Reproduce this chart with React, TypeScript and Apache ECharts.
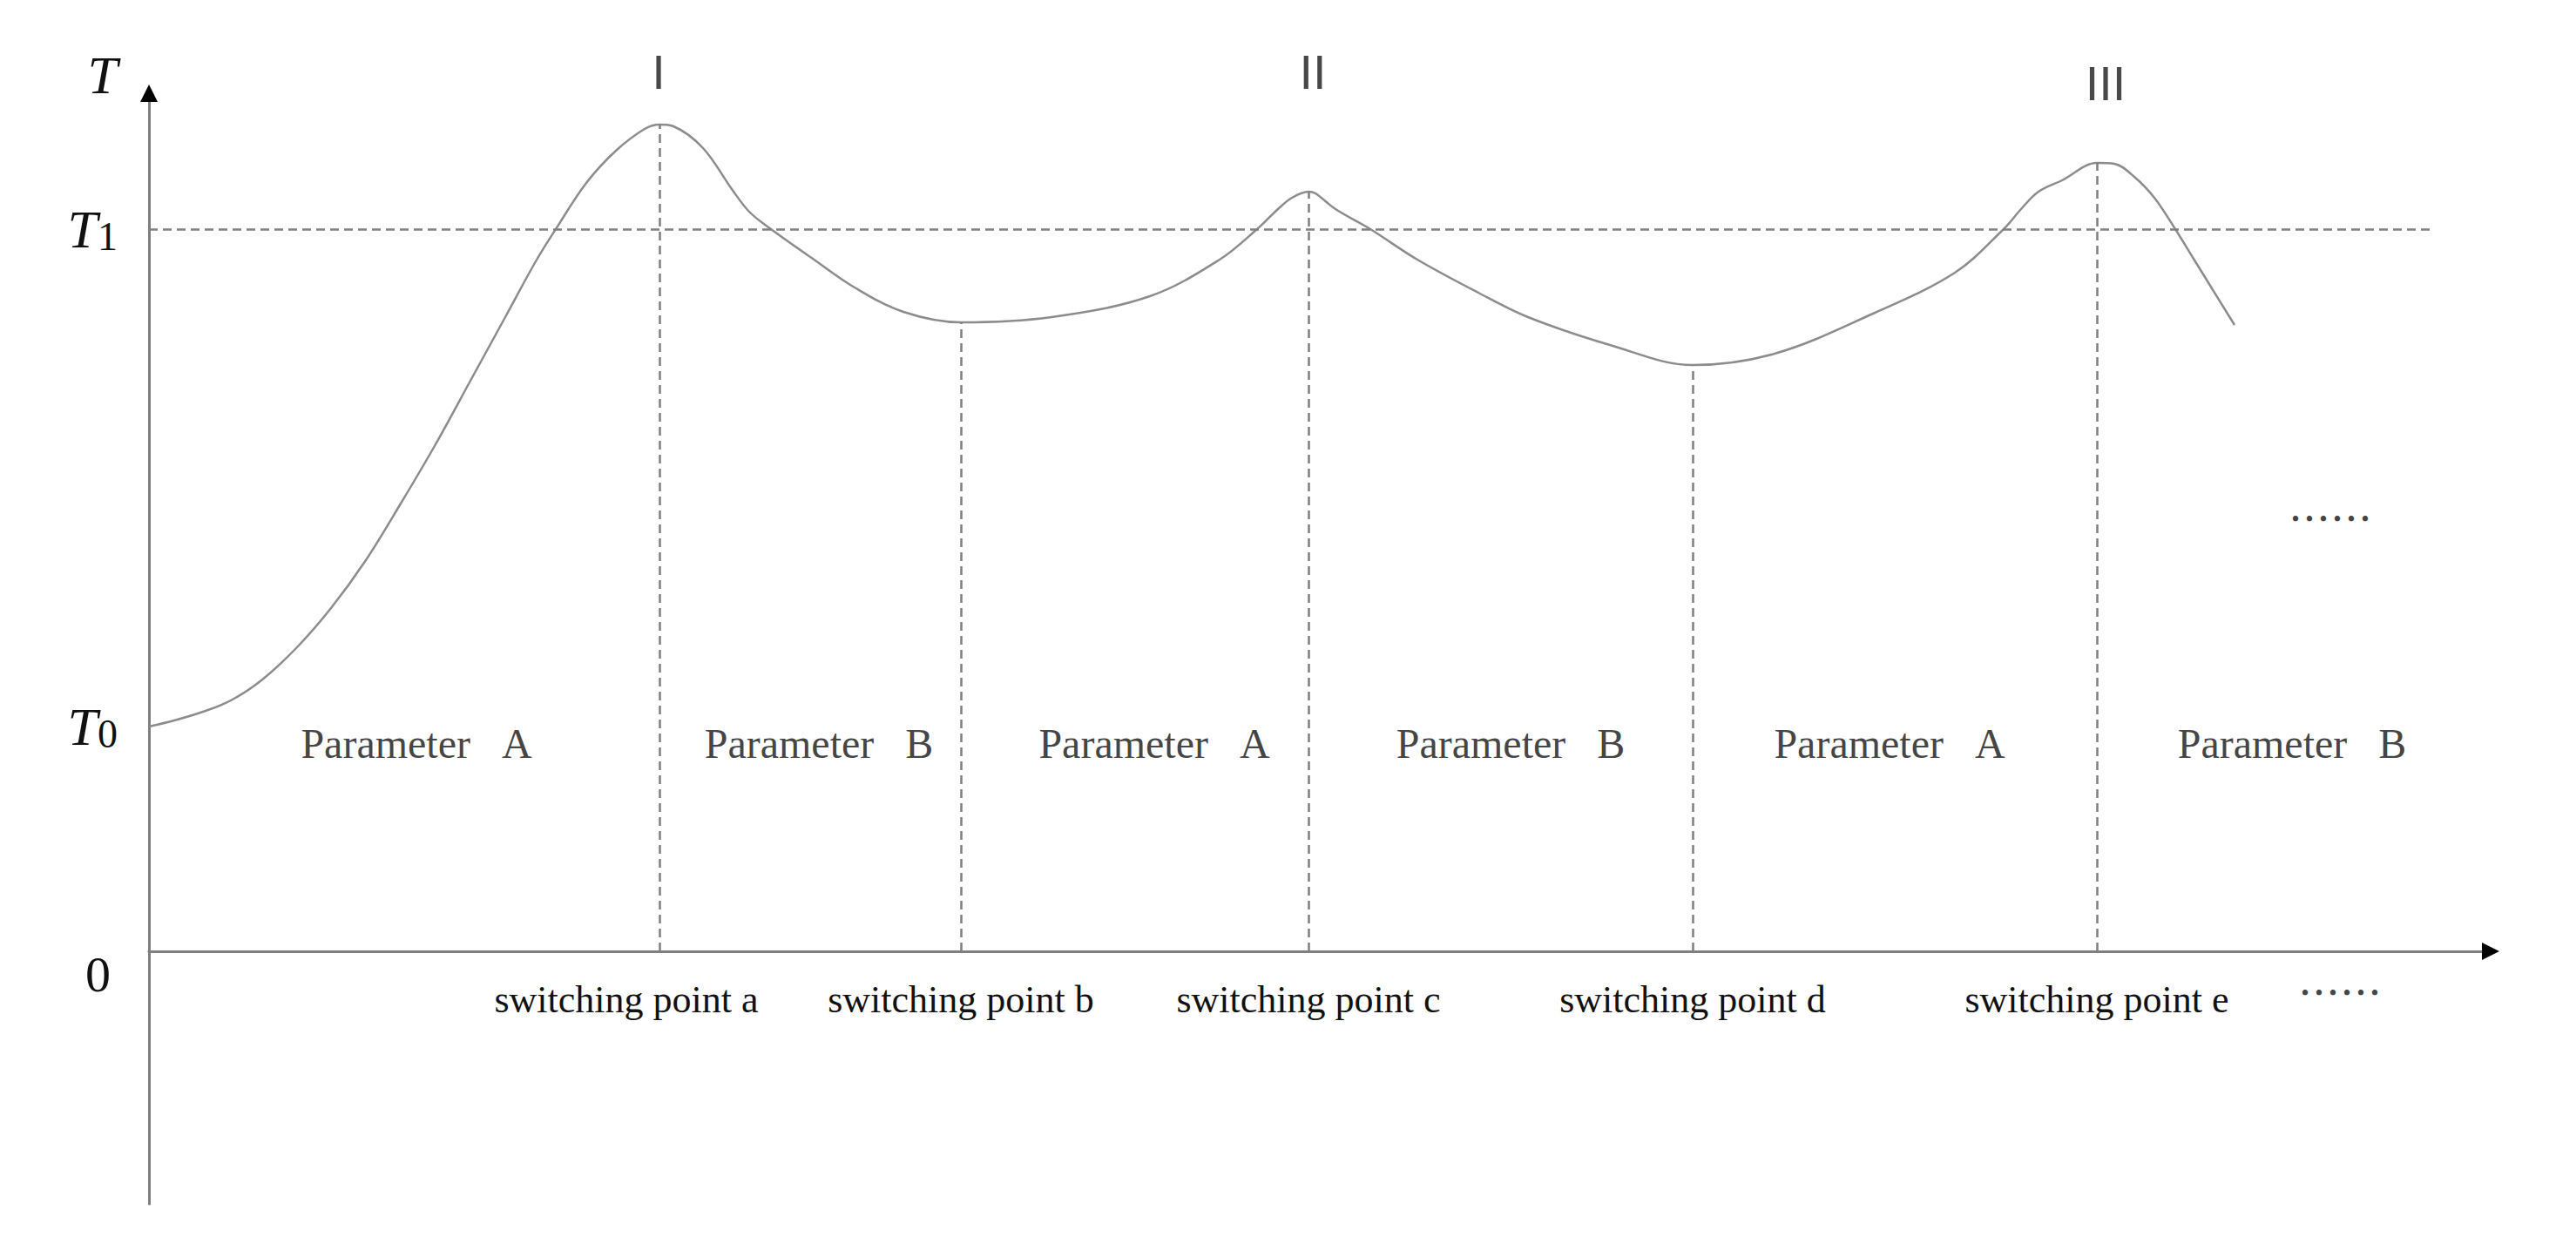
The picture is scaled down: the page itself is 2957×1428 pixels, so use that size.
import React, { useEffect, useRef } from "react";
import * as echarts from "echarts";

// ---- data (abstract units) ----
const curveX = [0, 2.9, 6.2, 9.4, 12.9, 16.9, 20.9, 24.9, 28.9, 32.9, 36.9, 40.9, 44.4, 46.7, 50.2, 53.6, 56.9, 58.6, 60.2, 63.6, 66.9, 68.9, 71.4, 76.2, 81, 86.6, 93.2, 103.6, 114.9, 122.9, 127.2, 129.6, 131.2, 133.1, 133.9, 136.2, 140.2, 145.6, 152.6, 158.3, 167.7, 177.2, 186.6, 197.9, 207.3, 212.9, 214.9, 216.9, 219.6, 223.6, 225.6, 227.9, 230.2, 232.6, 234.7, 239.4];
const curveY = [25.8, 26.5, 27.5, 28.8, 31.1, 34.8, 39.4, 44.9, 51.4, 58.2, 65.5, 72.8, 79.2, 82.9, 88.2, 91.9, 94.4, 94.9, 94.7, 92.2, 87.5, 84.9, 82.9, 79.5, 76.2, 73.4, 72.2, 72.8, 75.2, 79.4, 82.9, 85.2, 86.5, 87.2, 87.0, 85.2, 82.9, 79.4, 75.6, 72.8, 69.6, 67.3, 68.6, 73.2, 77.9, 82.9, 85.2, 87.2, 88.5, 90.5, 90.4, 88.9, 86.5, 82.9, 79.5, 71.9];

const switchX = [58.6, 93.2, 133.1, 177.2, 223.6];
const switchY = [94.9, 72.2, 87.2, 67.3, 90.5];
const switchLabels = ["switching point a", "switching point b", "switching point c", "switching point d", "switching point e"];

const T0 = 25.8;
const T1 = 82.9;
const yTickValues = [0, T0, T1];
const yTickLabels = ["0", "T0", "T1"];
const t1LineEnd = 262;

const paramLabels = ["Parameter\u00a0\u00a0\u00a0A", "Parameter\u00a0\u00a0\u00a0B", "Parameter\u00a0\u00a0\u00a0A", "Parameter\u00a0\u00a0\u00a0B", "Parameter\u00a0\u00a0\u00a0A", "Parameter\u00a0\u00a0\u00a0B"];
const paramX = [30.7, 76.9, 115.4, 156.3, 199.8, 246.0];
const paramY = 23.9;

const peakLabels = ["I", "II", "III"];
const peakX = [58.5, 133.6, 224.6];
const peakY = [101, 101, 99.7];

const ellipsisX = [250.4, 251.5];
const ellipsisY = [50, -4.4];

const X_MIN = 0;
const X_MAX = 268.8;
const Y_MIN = -29;
const Y_MAX = 98.5;

const SERIF = "'Times New Roman', 'Liberation Serif', serif";
const SANS = "'Liberation Sans', Arial, sans-serif";
const AXIS_COLOR = "#7f7f7f";
const TEXT_COLOR = "#111";

export default function App() {
  const ref = useRef<HTMLDivElement>(null);

  useEffect(() => {
    if (!ref.current) return;
    const chart = echarts.init(ref.current, undefined, { renderer: "svg" });

    const curveData = curveX.map((x, i) => [x, curveY[i]]);

    const dashStyle = { color: AXIS_COLOR, width: 2.5, type: [10, 6] as any };

    const markLineData: any[] = switchX.map((x, i) => [
      { coord: [x, 0] },
      { coord: [x, switchY[i]] },
    ]);
    markLineData.push([{ coord: [0, T1] }, { coord: [t1LineEnd, T1] }]);

    const annotations: any[] = [];
    paramLabels.forEach((t, i) => {
      annotations.push({
        value: [paramX[i], paramY],
        label: { formatter: t, fontSize: 48, fontFamily: SERIF, color: TEXT_COLOR },
      });
    });
    peakLabels.forEach((t, i) => {
      annotations.push({
        value: [peakX[i], peakY[i]],
        label: { formatter: t, fontSize: 56, fontFamily: SANS, color: "#1a1a1a" },
      });
    });
    ellipsisX.forEach((x, i) => {
      annotations.push({
        value: [x, ellipsisY[i]],
        label: { formatter: "\u2026\u2026", fontSize: 48, fontFamily: "'Noto Sans CJK SC', sans-serif", color: TEXT_COLOR },
      });
    });

    // pixel offset that puts the x axis on y = 0
    const gridTop = 107;
    const gridBottom = 46;
    const gridHeight = 1428 - gridTop - gridBottom;
    const zeroOffset = -(gridHeight * (0 - Y_MIN)) / (Y_MAX - Y_MIN);

    const arrowSize = [20, 20];

    // invisible-line axes that only carry the black arrow heads
    const arrowAxisCommon = {
      type: "value",
      splitLine: { show: false },
      axisTick: { show: false },
      axisLabel: { show: false },
    };

    chart.setOption({
      animation: false,
      backgroundColor: "#ffffff",
      grid: { left: 171, right: 98, top: gridTop, bottom: gridBottom, containLabel: false, outerBoundsMode: "none" },
      xAxis: [
        {
          type: "value",
          min: X_MIN,
          max: X_MAX,
          position: "bottom",
          offset: zeroOffset,
          splitLine: { show: false },
          axisTick: { show: false },
          axisLine: {
            show: true,
            onZero: false,
            symbol: ["none", "none"],
            lineStyle: { color: AXIS_COLOR, width: 3 },
          },
          axisLabel: {
            show: true,
            customValues: switchX,
            margin: 33,
            fontSize: 44,
            fontFamily: SERIF,
            color: TEXT_COLOR,
            formatter: (v: number) => {
              const idx = switchX.findIndex((s) => Math.abs(s - v) < 1e-6);
              if (idx < 0) return "";
              return idx === 0 ? `{sa|${switchLabels[idx]}}` : switchLabels[idx];
            },
            rich: {
              sa: { fontSize: 44, fontFamily: SERIF, color: TEXT_COLOR, padding: [0, 76, 0, 0] },
            },
          },
        },
        {
          ...arrowAxisCommon,
          min: X_MIN,
          max: X_MAX,
          position: "bottom",
          offset: zeroOffset,
          axisLine: {
            show: true,
            onZero: false,
            symbol: ["none", "triangle"],
            symbolSize: arrowSize,
            lineStyle: { color: "#000", width: 3, opacity: 0 },
          },
        },
      ],
      yAxis: [
        {
          type: "value",
          min: Y_MIN,
          max: Y_MAX,
          name: "T",
          nameLocation: "end",
          nameGap: 21,
          nameTextStyle: {
            fontFamily: SERIF,
            fontStyle: "italic",
            fontSize: 62,
            color: TEXT_COLOR,
            align: "right",
            verticalAlign: "middle",
            padding: [0, 36, 0, 0],
          },
          splitLine: { show: false },
          axisTick: { show: false },
          axisLine: {
            show: true,
            onZero: false,
            symbol: ["none", "none"],
            lineStyle: { color: AXIS_COLOR, width: 3 },
          },
          axisLabel: {
            show: true,
            customValues: yTickValues,
            margin: 36,
            color: TEXT_COLOR,
            formatter: (v: number) => {
              const idx = yTickValues.findIndex((s) => Math.abs(s - v) < 1e-6);
              if (idx < 0) return "";
              const lab = yTickLabels[idx];
              if (lab === "0") return "{z|0}";
              return `{t|${lab[0]}}{s|${lab.slice(1)}}`;
            },
            rich: {
              t: { fontFamily: SERIF, fontStyle: "italic", fontSize: 62, lineHeight: 62, color: TEXT_COLOR },
              s: { fontFamily: SERIF, fontSize: 46, lineHeight: 26, verticalAlign: "bottom", color: TEXT_COLOR },
              z: { fontFamily: SERIF, fontSize: 58, lineHeight: 58, padding: [52, 8, 0, 0], color: TEXT_COLOR },
            },
          },
        },
        {
          ...arrowAxisCommon,
          min: Y_MIN,
          max: Y_MAX,
          position: "left",
          offset: 0,
          axisLine: {
            show: true,
            onZero: false,
            symbol: ["none", "triangle"],
            symbolSize: arrowSize,
            lineStyle: { color: "#000", width: 3, opacity: 0 },
          },
        },
      ],
      series: [
        {
          name: "T",
          type: "line",
          xAxisIndex: 0,
          yAxisIndex: 0,
          data: curveData,
          smooth: 0.35,
          symbol: "none",
          lineStyle: { color: "#8c8c8c", width: 2.5 },
          silent: true,
          markLine: {
            silent: true,
            symbol: ["none", "none"],
            label: { show: false },
            lineStyle: dashStyle,
            data: markLineData,
          },
        },
        {
          name: "annotations",
          type: "scatter",
          xAxisIndex: 0,
          yAxisIndex: 0,
          data: annotations,
          symbolSize: 1,
          clip: false,
          silent: true,
          itemStyle: { color: "rgba(0,0,0,0)" },
          label: { show: true, position: "inside" },
        },
      ],
    });

    return () => {
      chart.dispose();
    };
  }, []);

  return (
    <div
      ref={ref}
      style={{ position: "fixed", left: 0, top: 0, width: 2957, height: 1428, background: "#fff" }}
    />
  );
}
